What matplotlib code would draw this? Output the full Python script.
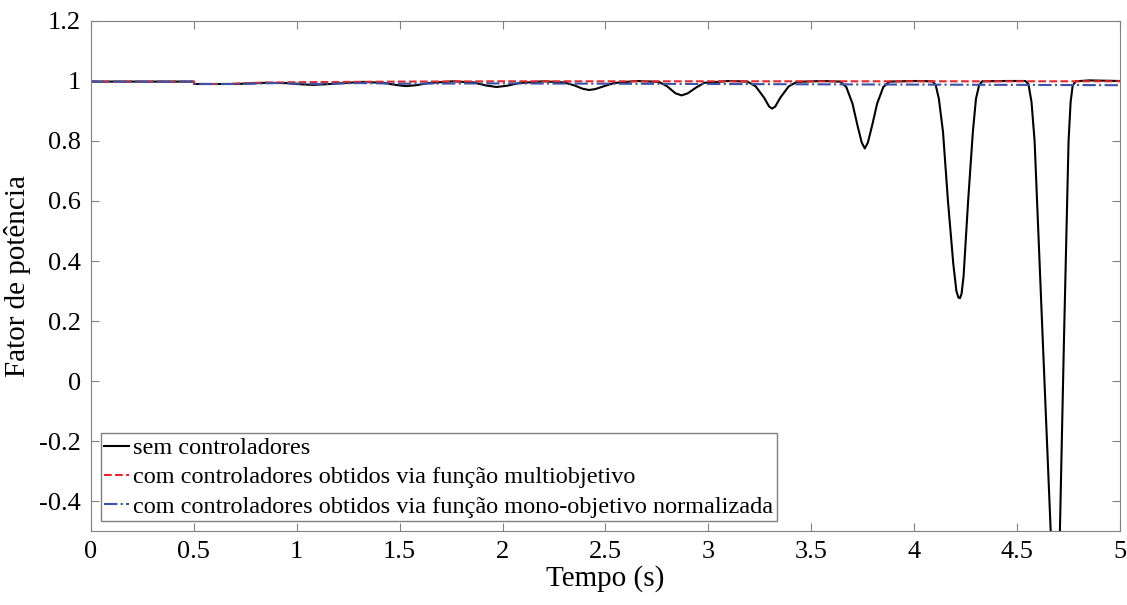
import matplotlib
matplotlib.use("Agg")
import matplotlib.pyplot as plt
from matplotlib.ticker import FuncFormatter

plt.rcParams['font.family'] = ['Liberation Serif', 'DejaVu Serif']

# sem controladores
t_sem = [0.00, 0.50, 0.501, 0.70, 0.85, 0.95, 1.02, 1.08, 1.14, 1.20, 1.32, 1.42, 1.48,
         1.53, 1.58, 1.64, 1.76, 1.86, 1.92, 1.97, 2.02, 2.08, 2.20, 2.30, 2.35, 2.39,
         2.42, 2.45, 2.49, 2.54, 2.65, 2.76, 2.80, 2.84, 2.87, 2.90, 2.94, 2.98,
         3.10, 3.19, 3.23, 3.27, 3.295, 3.31, 3.325, 3.35, 3.39, 3.43, 3.55,
         3.64, 3.67, 3.70, 3.725, 3.745, 3.76, 3.775, 3.795, 3.82, 3.85, 3.88, 4.00,
         4.09, 4.105, 4.12, 4.14, 4.164, 4.19, 4.205, 4.215, 4.222, 4.23, 4.24, 4.262,
         4.285, 4.30, 4.315, 4.33, 4.45, 4.54, 4.555, 4.57, 4.585, 4.624, 4.663, 4.686,
         4.708, 4.728, 4.75, 4.76, 4.77, 4.785, 4.85, 5.00]
fp_sem = [0.998, 0.998, 0.990, 0.990, 0.994, 0.993, 0.989, 0.987, 0.989, 0.992, 0.997, 0.994, 0.987,
          0.983, 0.986, 0.993, 0.999, 0.995, 0.985, 0.980, 0.984, 0.993, 0.999, 0.995, 0.985, 0.974,
          0.970, 0.973, 0.982, 0.993, 1.000, 0.997, 0.982, 0.959, 0.952, 0.959, 0.978, 0.994,
          1.000, 0.998, 0.982, 0.945, 0.915, 0.908, 0.915, 0.945, 0.982, 0.997, 1.000,
          0.998, 0.980, 0.925, 0.850, 0.795, 0.775, 0.795, 0.850, 0.925, 0.980, 0.998, 1.000,
          0.999, 0.985, 0.940, 0.830, 0.600, 0.390, 0.300, 0.278, 0.276, 0.290, 0.350, 0.600,
          0.830, 0.940, 0.985, 0.999, 1.000, 1.000, 0.990, 0.930, 0.800, 0.147, -0.497, -0.750,
          -0.497, 0.147, 0.800, 0.930, 0.985, 0.999, 1.002, 1.000]

# com controladores - função multiobjetivo
t_multi = [0.00, 0.50, 0.501, 0.65, 0.80, 1.00, 1.50, 2.00, 3.00, 5.00]
fp_multi = [0.998, 0.998, 0.990, 0.990, 0.994, 0.996, 0.998, 0.999, 0.999, 0.999]

# com controladores - função mono-objetivo normalizada
t_mono = [0.00, 0.50, 0.501, 0.70, 0.90, 1.10, 1.30, 1.50, 2.00, 3.00, 4.00, 5.00]
fp_mono = [0.998, 0.998, 0.990, 0.990, 0.993, 0.990, 0.993, 0.991, 0.992, 0.990, 0.988, 0.986]

x_ticks = [0, 0.5, 1, 1.5, 2, 2.5, 3, 3.5, 4, 4.5, 5]
y_ticks = [-0.4, -0.2, 0, 0.2, 0.4, 0.6, 0.8, 1, 1.2]

fig = plt.figure(figsize=(11.27, 6.05), dpi=100)
ax = fig.add_axes([0.0807, 0.1223, 0.9131, 0.843])

ax.plot(t_sem, fp_sem, '-', color='black', lw=1.5, label='sem controladores')
ax.plot(t_multi, fp_multi, '--', color='#e8262a', lw=1.5,
        label='com controladores obtidos via função multiobjetivo')
ax.plot(t_mono, fp_mono, '-.', color='#3a52a8', lw=1.5,
        label='com controladores obtidos via função mono-objetivo normalizada')

ax.set_xlim(0, 5)
ax.set_ylim(-0.5, 1.2)
ax.set_xticks(x_ticks)
ax.set_yticks(y_ticks)
fmt = FuncFormatter(lambda v, p: '%g' % round(v, 2))
ax.xaxis.set_major_formatter(fmt)
ax.yaxis.set_major_formatter(fmt)
ax.tick_params(direction='in', top=True, right=True, length=6, color='#808080',
               labelsize=19, pad=7)
for s in ax.spines.values():
    s.set_color('#808080')

ax.set_xlabel('Tempo (s)', fontsize=21, labelpad=2)
ax.set_ylabel('Fator de potência', fontsize=21, labelpad=6)

leg = ax.legend(loc='lower left', fontsize=17.5, handlelength=1.0, handletextpad=0.2,
                borderpad=0.15, labelspacing=0.3, borderaxespad=0.4, fancybox=False,
                framealpha=1, edgecolor='#808080')
leg.get_frame().set_linewidth(1.0)

fig.savefig('out.png', dpi=100)
